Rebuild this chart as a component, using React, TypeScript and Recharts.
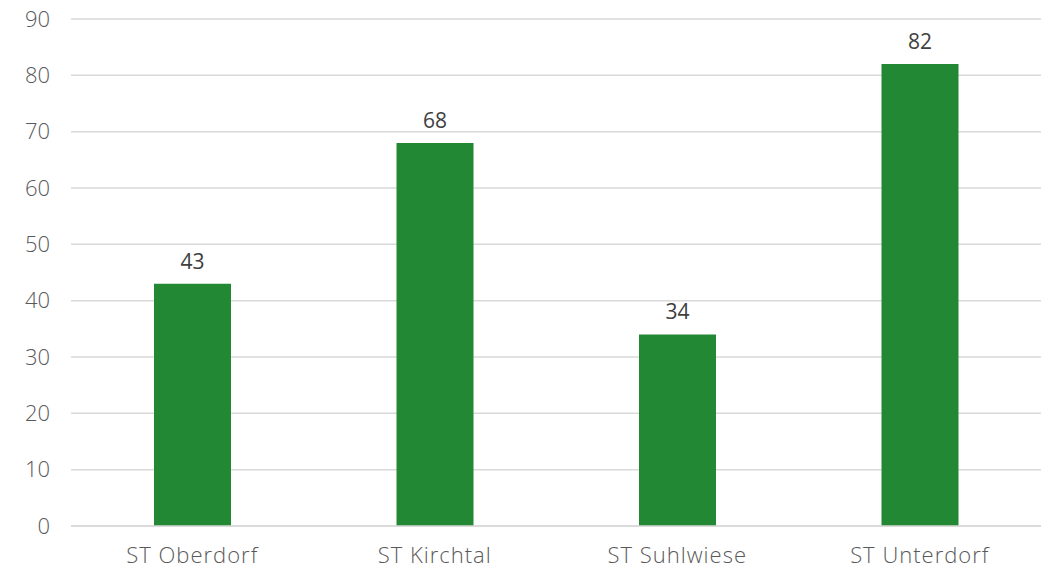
// Bar chart of counts per district, Excel-like styling.
import { Bar, BarChart, CartesianGrid, LabelList, XAxis, YAxis } from "recharts";

const categories = ["ST Oberdorf", "ST Kirchtal", "ST Suhlwiese", "ST Unterdorf"];
const values = [43, 68, 34, 82];
const yTicks = [0, 10, 20, 30, 40, 50, 60, 70, 80, 90];

const data = categories.map((name, i) => ({ name, value: values[i] }));

const font = "'Open Sans', sans-serif";

export default function App() {
  return (
    <div style={{ position: "absolute", left: 0, top: 0, background: "#fff" }}>
      <BarChart width={1050} height={569} data={data}
                margin={{ top: 19, right: 9, bottom: 13, left: 11 }}>
        <CartesianGrid vertical={false} stroke="#d9d9d9" strokeWidth={1.5} />
        <XAxis dataKey="name" axisLine={{ stroke: "#d9d9d9", strokeWidth: 1.5 }} tickLine={false}
               tickSize={0} tickMargin={21} height={30}
               tick={{ fill: "#595959", fontSize: 22, fontFamily: font, letterSpacing: 1, fontWeight: 300 }} />
        <YAxis domain={[0, 90]} ticks={yTicks} width={60} axisLine={false} tickLine={false}
               tickSize={0} tickMargin={21} interval={0}
               tick={{ fill: "#595959", fontSize: 22, fontFamily: font, fontWeight: 300 }} />
        <Bar dataKey="value" fill="#238834" barSize={77} isAnimationActive={false}>
          <LabelList dataKey="value" position="top" offset={15}
                     style={{ fill: "#404040", fontSize: 21, fontFamily: font }} />
        </Bar>
      </BarChart>
    </div>
  );
}
